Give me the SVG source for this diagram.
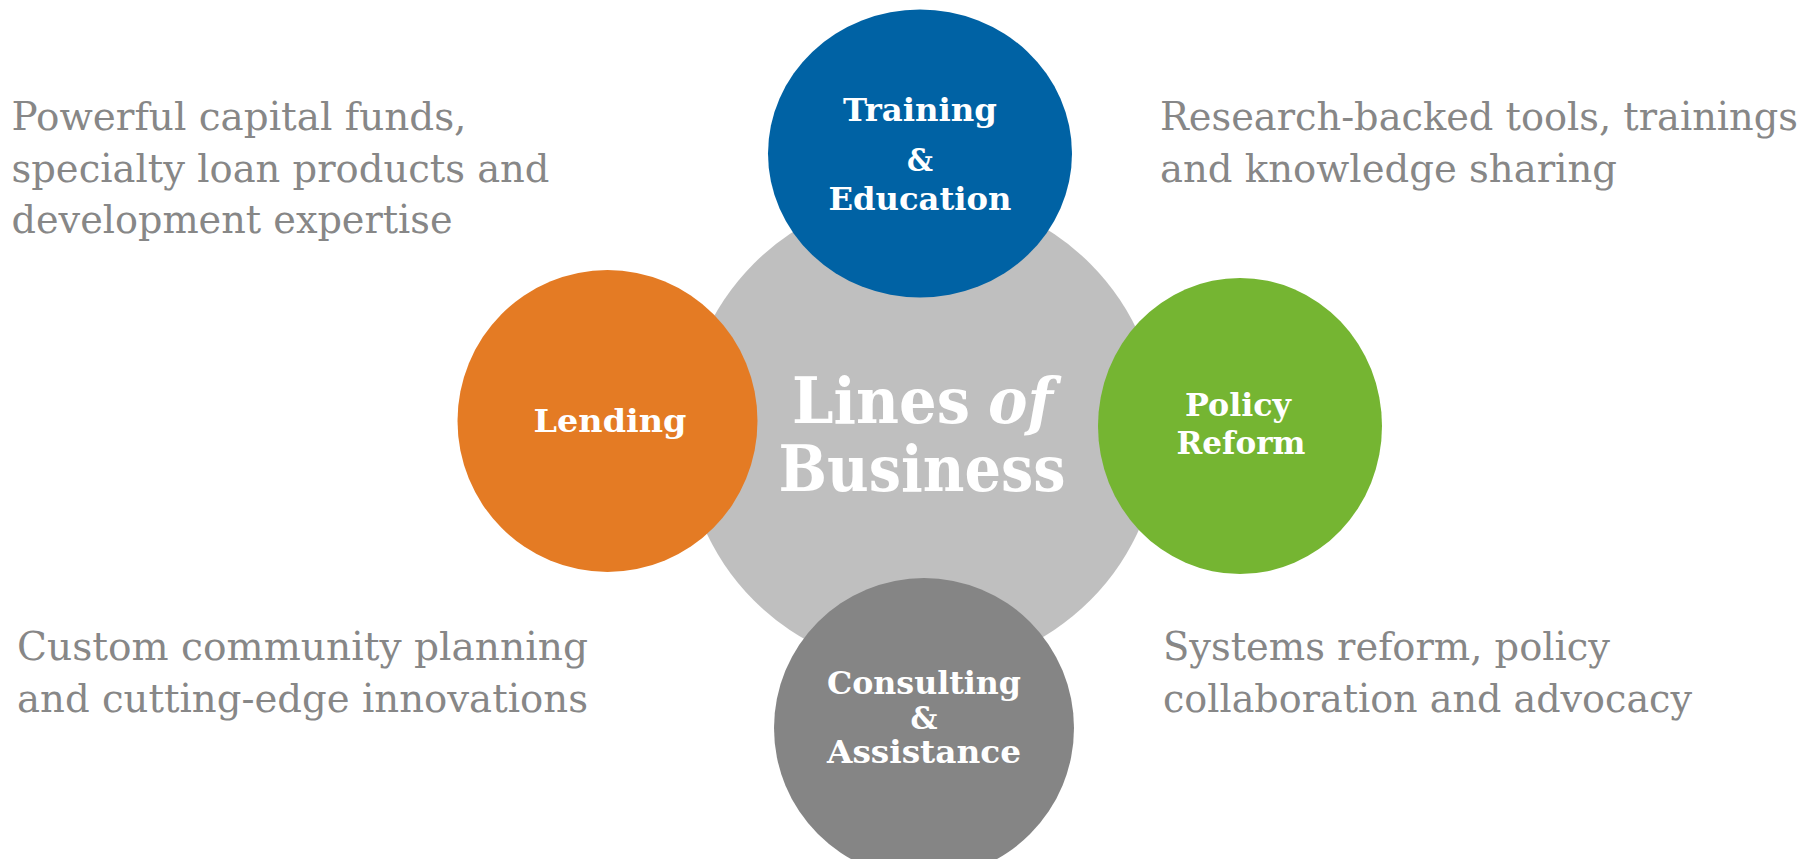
<svg xmlns="http://www.w3.org/2000/svg" width="1806" height="859" viewBox="0 0 1806 859">
<style>
.body{font-family:"DejaVu Serif","Liberation Serif",serif;font-size:38.5px;fill:#878787}
.lbl{font-family:"DejaVu Serif","Liberation Serif",serif;font-size:31px;font-weight:bold;fill:#ffffff;text-anchor:middle}
.big{font-family:"DejaVu Serif","Liberation Serif",serif;font-size:64px;font-weight:bold;fill:#ffffff}
</style>
<rect width="1806" height="859" fill="#ffffff"/>
<g id="connectors"/>
<g id="center">
<circle cx="922" cy="432" r="238" fill="#bfbfbf"/>
<text class="big" x="792" y="423" textLength="178" lengthAdjust="spacingAndGlyphs">Lines</text>
<text class="big" x="988" y="423" font-style="italic" textLength="65" lengthAdjust="spacingAndGlyphs">of</text>
<text class="big" x="922" y="491" text-anchor="middle" textLength="287" lengthAdjust="spacingAndGlyphs">Business</text>
</g>
<g id="training">
<ellipse cx="920" cy="153.5" rx="152" ry="144" fill="#0062a4"/>
<text class="lbl" x="920" y="121" textLength="154" lengthAdjust="spacingAndGlyphs">Training</text>
<text class="lbl" x="920" y="171" textLength="26" lengthAdjust="spacingAndGlyphs">&amp;</text>
<text class="lbl" x="920" y="210" textLength="183" lengthAdjust="spacingAndGlyphs">Education</text>
</g>
<g id="lending">
<ellipse cx="607.5" cy="421" rx="150" ry="151" fill="#e47b24"/>
<text class="lbl" x="610" y="432" textLength="153" lengthAdjust="spacingAndGlyphs">Lending</text>
</g>
<g id="policy">
<ellipse cx="1240" cy="426" rx="142" ry="148" fill="#75b532"/>
<text class="lbl" x="1238" y="416" textLength="106" lengthAdjust="spacingAndGlyphs">Policy</text>
<text class="lbl" x="1241" y="454" textLength="129" lengthAdjust="spacingAndGlyphs">Reform</text>
</g>
<g id="consulting">
<circle cx="924" cy="728" r="150" fill="#858585"/>
<text class="lbl" x="924" y="694" textLength="194" lengthAdjust="spacingAndGlyphs">Consulting</text>
<text class="lbl" x="924" y="729" textLength="27" lengthAdjust="spacingAndGlyphs">&amp;</text>
<text class="lbl" x="924" y="763" textLength="194" lengthAdjust="spacingAndGlyphs">Assistance</text>
</g>
<g id="text-lending">
<text class="body" x="11.5" y="130" textLength="455" lengthAdjust="spacingAndGlyphs">Powerful capital funds,</text>
<text class="body" x="11.5" y="182" textLength="538" lengthAdjust="spacingAndGlyphs">specialty loan products and</text>
<text class="body" x="11.5" y="233" textLength="441" lengthAdjust="spacingAndGlyphs">development expertise</text>
</g>
<g id="text-training">
<text class="body" x="1160" y="130" textLength="638" lengthAdjust="spacingAndGlyphs">Research-backed tools, trainings</text>
<text class="body" x="1160" y="182" textLength="457" lengthAdjust="spacingAndGlyphs">and knowledge sharing</text>
</g>
<g id="text-consulting">
<text class="body" x="17" y="660" textLength="571" lengthAdjust="spacingAndGlyphs">Custom community planning</text>
<text class="body" x="17" y="712" textLength="571" lengthAdjust="spacingAndGlyphs">and cutting-edge innovations</text>
</g>
<g id="text-policy">
<text class="body" x="1163" y="660" textLength="447" lengthAdjust="spacingAndGlyphs">Systems reform, policy</text>
<text class="body" x="1163" y="712" textLength="529" lengthAdjust="spacingAndGlyphs">collaboration and advocacy</text>
</g>
</svg>
